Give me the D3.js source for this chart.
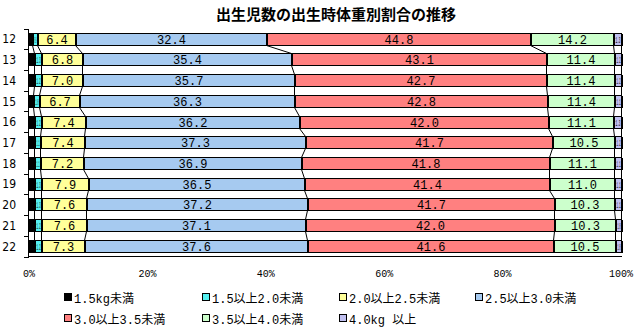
<!DOCTYPE html>
<html><head><meta charset="utf-8">
<script src="https://cdn.jsdelivr.net/npm/d3@7"></script>
<style>
html,body{margin:0;padding:0;background:#fff;}
svg{display:block;}
</style></head>
<body>
<svg id="chart" width="643" height="334"></svg>
<script>
const years = ["12","13","14","15","16","17","18","19","20","21","22"];
const seriesNames = ["1.5kg未満","1.5以上2.0未満","2.0以上2.5未満","2.5以上3.0未満","3.0以上3.5未満","3.5以上4.0未満","4.0kg 以上"];
const seriesColors = ["#000000","#55F0F0","#FFFF99","#A6CAF0","#FF8080","#CCFFCC","#C0C0F0"];
const under15 = [0.5,0.8,0.8,0.7,0.8,0.8,0.8,0.8,0.8,0.8,0.8];
const w15to20 = [0.9,1.3,1.2,1.0,1.2,1.1,1.1,1.3,1.3,1.2,1.2];
const w20to25 = [6.4,6.8,7.0,6.7,7.4,7.4,7.2,7.9,7.6,7.6,7.3];
const w25to30 = [32.4,35.4,35.7,36.3,36.2,37.3,36.9,36.5,37.2,37.1,37.6];
const w30to35 = [44.8,43.1,42.7,42.8,42.0,41.7,41.8,41.4,41.7,42.0,41.6];
const w35to40 = [14.2,11.4,11.4,11.4,11.1,10.5,11.1,11.0,10.3,10.3,10.5];
const over40 = [1.3,1.2,1.2,1.1,1.3,1.2,1.1,1.1,1.1,1.0,1.0];
const tickLabels = ["0%","20%","40%","60%","80%","100%"];
const tickValues = [0,0.2,0.4,0.6,0.8,1.0];
const title = "出生児数の出生時体重別割合の推移";

const seriesValues = [under15,w15to20,w20to25,w25to30,w30to35,w35to40,over40];
const keys = seriesNames.map((d,i)=>"s"+i);
const rows = years.map((y,i)=>{
  const o = {year:y};
  keys.forEach((k,j)=>o[k]=seriesValues[j][i]);
  return o;
});
const stacked = d3.stack().keys(keys).offset(d3.stackOffsetExpand)(rows);

const svg = d3.select("#chart");
const x = d3.scaleLinear().domain([0,1]).range([29,621]);
const y = d3.scaleBand().domain(years).range([28.5,256.5]).paddingInner(0.4).paddingOuter(0.2);
const bw = y.bandwidth();
const px = v => Math.round(x(v)) + 0.5;
const barTop = yr => Math.round(y(yr)) + 0.5;
const bh = Math.round(bw);

// title
svg.append("text").attr("x",336).attr("y",20).attr("text-anchor","middle")
  .attr("font-family","'Noto Sans CJK JP'").attr("font-weight","bold").attr("font-size",15)
  .text(title);

// series lines
const gLines = svg.append("g");
for(let i=0;i<years.length-1;i++){
  stacked.forEach((s,j)=>{
    gLines.append("line")
      .attr("x1",px(s[i][1])).attr("y1",barTop(years[i])+bh)
      .attr("x2",px(s[i+1][1])).attr("y2",barTop(years[i+1]))
      .attr("stroke","#000").attr("stroke-width",1);
  });
}

// bars
const gBars = svg.append("g").attr("shape-rendering","crispEdges");
stacked.forEach((s,j)=>{
  gBars.selectAll(null).data(s).join("rect")
    .attr("x",d=>px(d[0])).attr("y",d=>barTop(d.data.year))
    .attr("width",d=>px(d[1])-px(d[0])).attr("height",bh)
    .attr("fill",seriesColors[j]).attr("stroke","#000").attr("stroke-width",1);
});
// thicker boundaries between segments
stacked.forEach((s,j)=>{
  gBars.selectAll(null).data(s).join("line")
    .attr("x1",d=>px(d[1])+1).attr("x2",d=>px(d[1])+1)
    .attr("y1",d=>barTop(d.data.year)).attr("y2",d=>barTop(d.data.year)+bh)
    .attr("stroke","#000").attr("stroke-width",1);
});

// labels
const gLab = svg.append("g").attr("font-family","'Liberation Mono', monospace").attr("font-size",12);
stacked.forEach((s,j)=>{
  s.forEach((d,i)=>{
    const x0=px(d[0]), x1=px(d[1]);
    const w = x1-x0;
    const cx = (x0+x1)/2+0.5;
    const txt = seriesValues[j][i].toFixed(1);
    if(w<24){
      const fs = 9;
      const natural = txt.length*fs*0.6;
      const sx = Math.max(0.05,(w-3)/natural);
      gLab.append("text")
        .attr("transform",`translate(${cx},${barTop(d.data.year)+bh/2+3}) scale(${sx},1)`)
        .attr("text-anchor","middle").attr("font-size",fs).attr("fill","#000")
        .text(txt);
    } else {
      gLab.append("text")
        .attr("x",cx).attr("y",barTop(d.data.year)+bh/2+4.5)
        .attr("text-anchor","middle").attr("fill","#000")
        .text(txt);
    }
  });
});

// axes
const gAx = svg.append("g").attr("stroke","#000").attr("stroke-width",1).attr("shape-rendering","crispEdges");
gAx.append("line").attr("x1",28.5).attr("x2",28.5).attr("y1",28.5).attr("y2",256.5);
gAx.append("line").attr("x1",28.5).attr("x2",622).attr("y1",256.5).attr("y2",256.5);
const step = y.step();
for(let k=0;k<=years.length;k++){
  const yy = Math.round(28.5 + k*step)+0.5;
  gAx.append("line").attr("x1",24).attr("x2",28.5).attr("y1",yy).attr("y2",yy);
}
svg.append("g").selectAll("text").data(years).join("text")
  .attr("x",16).attr("y",d=>y(d)+bw/2+4.5).attr("text-anchor","end")
  .attr("font-family","'Liberation Sans Narrow','DejaVu Sans Condensed',sans-serif").attr("font-size",12)
  .text(d=>d);
svg.append("g").selectAll("text").data(tickValues).join("text")
  .attr("x",d=>x(d)).attr("y",277).attr("text-anchor","middle")
  .attr("font-family","'Liberation Mono', monospace").attr("font-size",10)
  .text((d,i)=>tickLabels[i]);

// legend
const legX=[64,202,339,475], legY=[298,319];
const gLeg = svg.append("g");
seriesNames.forEach((n,i)=>{
  const lx=legX[i%4], ly=legY[Math.floor(i/4)];
  gLeg.append("rect").attr("x",lx+0.5).attr("y",ly-4.5).attr("width",7).attr("height",7)
    .attr("fill",seriesColors[i]).attr("stroke","#000").attr("stroke-width",1).attr("shape-rendering","crispEdges");
  gLeg.append("text").attr("x",lx+10).attr("y",ly+4.5)
    .attr("font-family","'Liberation Mono','Noto Sans CJK JP',monospace").attr("font-size",12)
    .text(n);
});
</script>
</body></html>
